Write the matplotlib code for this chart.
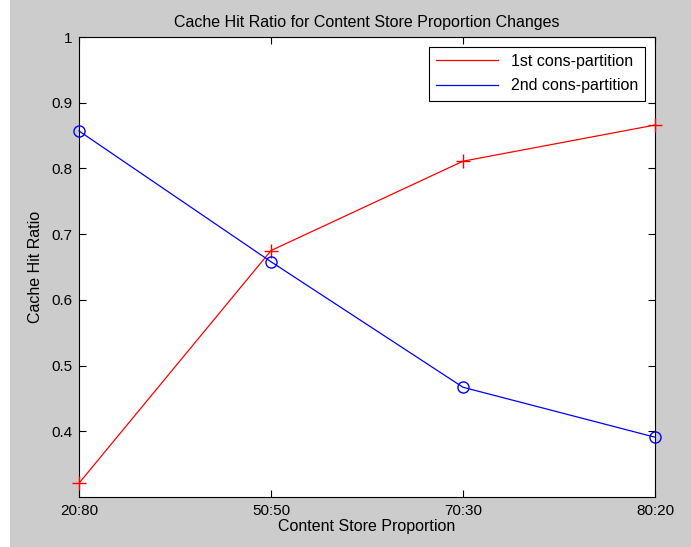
import matplotlib
matplotlib.use("Agg")
import matplotlib.pyplot as plt
from matplotlib.patches import Rectangle

# data
categories = ["20:80", "50:50", "70:30", "80:20"]
first_partition = [0.321, 0.675, 0.811, 0.866]
second_partition = [0.857, 0.658, 0.467, 0.391]
y_ticks = [0.4, 0.5, 0.6, 0.7, 0.8, 0.9, 1]
y_tick_labels = ["0.4", "0.5", "0.6", "0.7", "0.8", "0.9", "1"]

plt.rcParams['font.family'] = ['Liberation Sans', 'DejaVu Sans']

fig = plt.figure(figsize=(6.91, 5.47), dpi=100, facecolor="#cccccc")
# thin white strip on the left edge, like the screenshot
fig.patches.append(Rectangle((0, 0), 10 / 691, 1, transform=fig.transFigure,
                             facecolor="white", edgecolor="none"))

ax = fig.add_axes([79 / 691, 1 - 497 / 547, (655 - 79) / 691, (497 - 37) / 547])
ax.set_facecolor("white")

x = list(range(1, len(categories) + 1))
ax.plot(x, first_partition, color="red", marker="+", markersize=10,
        linewidth=0.9, label="1st cons-partition", clip_on=False, zorder=3)
ax.plot(x, second_partition, color="blue", marker="o", markersize=8,
        markerfacecolor="none", linewidth=0.9, label="2nd cons-partition",
        clip_on=False, zorder=3)

ax.set_xlim(1, 4)
ax.set_ylim(0.3, 1)
ax.set_xticks(x)
ax.set_xticklabels(categories)
ax.set_yticks(y_ticks)
ax.set_yticklabels(y_tick_labels)
ax.tick_params(direction="in", top=True, right=True, length=5, labelsize=11,
               width=0.8, pad=5)
for sp in ax.spines.values():
    sp.set_linewidth(0.8)

ax.set_title("Cache Hit Ratio for Content Store Proportion Changes", fontsize=11.5, pad=7)
ax.set_xlabel("Content Store Proportion", fontsize=11.5, labelpad=1)
ax.set_ylabel("Cache Hit Ratio", fontsize=11.5, labelpad=6)

leg = ax.legend(loc="upper right", fontsize=11.5, fancybox=False, framealpha=1,
                edgecolor="black", borderaxespad=0.6, handlelength=3.9,
                labelspacing=0.6, borderpad=0.45)
leg.get_frame().set_linewidth(0.8)
for h in leg.legend_handles:
    h.set_marker("")

fig.savefig("out.png", dpi=100, facecolor=fig.get_facecolor())
